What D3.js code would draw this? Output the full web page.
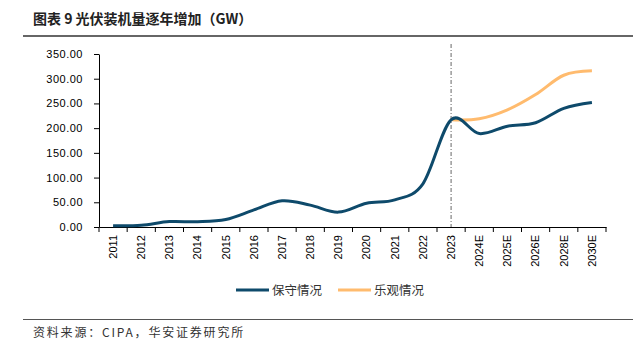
<!DOCTYPE html>
<html>
<head>
<meta charset="utf-8">
<script src="https://cdn.jsdelivr.net/npm/d3@7"></script>
<style>
  body { margin: 0; background: #fff; }
  svg { display: block; }
  .axis text { font-family: "Liberation Sans", Arial, sans-serif; font-size: 11px; fill: #000; }
  .axis path, .axis line { stroke: #000; }
  .cjk { font-family: "Noto Sans CJK SC", sans-serif; }
</style>
</head>
<body>
<svg width="638" height="350"></svg>
<script>
// categories and series
var years = ["2011", "2012", "2013", "2014", "2015", "2016", "2017", "2018", "2019",
    "2020", "2021", "2022", "2023", "2024E", "2025E", "2026E", "2028E", "2030E"];
var conservative = [2.7, 3.6, 10.9, 10.6, 15.1, 34.5, 53.1, 44.3, 30.1,
    48.2, 54.9, 87.4, 216.9, 189, 204, 211, 240, 252];
var optimisticYears = ["2023", "2024E", "2025E", "2026E", "2028E", "2030E"];
var optimistic = [216.9, 219, 237, 268, 307, 316];
var yTicks = [0, 50, 100, 150, 200, 250, 300, 350];
var seriesNames = ["保守情况", "乐观情况"];
var colors = ["#0e4a6b", "#ffbb6e"];

var svg = d3.select("svg");
var margin = {top: 54, left: 99, right: 32, bottom: 123};
var width = 638 - margin.left - margin.right;
var height = 350 - margin.top - margin.bottom;

// title and rules
svg.append("text").attr("class", "cjk")
    .attr("x", 33).attr("y", 24)
    .attr("font-size", 14).attr("font-weight", "bold").attr("fill", "#222")
    .text("图表 9 光伏装机量逐年增加（GW）");
svg.append("line").attr("x1", 23).attr("x2", 633).attr("y1", 36).attr("y2", 36)
    .attr("stroke", "#333").attr("stroke-width", 1.5);
svg.append("line").attr("x1", 23).attr("x2", 633).attr("y1", 319.5).attr("y2", 319.5)
    .attr("stroke", "#555").attr("stroke-width", 1.2);
svg.append("text").attr("class", "cjk")
    .attr("x", 33).attr("y", 337)
    .attr("font-size", 12).attr("fill", "#333").attr("letter-spacing", 1.8)
    .text("资料来源：CIPA，华安证券研究所");

var g = svg.append("g")
    .attr("transform", "translate(" + margin.left + "," + margin.top + ")");

var x = d3.scaleBand().range([0, width]).domain(years);
var y = d3.scaleLinear().range([height, 0]).domain([0, 350]);

g.append("g")
    .attr("class", "axis y")
    .call(d3.axisLeft(y).tickValues(yTicks).tickFormat(d3.format(".2f")).tickSize(5).tickSizeOuter(0))
    .selectAll("text").attr("x", -16).attr("font-size", 12).attr("letter-spacing", 0.5);

var xAxis = g.append("g")
    .attr("class", "axis x")
    .attr("transform", "translate(0," + height + ")")
    .call(d3.axisBottom(x).tickSize(0).tickSizeOuter(0));
xAxis.selectAll("text")
    .attr("transform", "rotate(-90)")
    .attr("text-anchor", "end")
    .attr("dy", "0.35em")
    .attr("x", -8).attr("y", 0)
    .attr("font-size", 11.5);
// tick marks on band boundaries, as in the reference
xAxis.selectAll(".bound")
    .data(years.concat(["end"]))
    .enter().append("line")
    .attr("class", "bound")
    .attr("x1", function(d, i) { return i * x.step(); })
    .attr("x2", function(d, i) { return i * x.step(); })
    .attr("y1", 0).attr("y2", 5)
    .attr("stroke", "#000");

// forecast divider at 2023
g.append("line")
    .attr("x1", x("2023") + x.bandwidth() / 2).attr("x2", x("2023") + x.bandwidth() / 2)
    .attr("y1", -10).attr("y2", height)
    .attr("stroke", "#666").attr("stroke-dasharray", "4,2,1,2");

var line = d3.line()
    .x(function(d) { return x(d[0]) + x.bandwidth() / 2; })
    .y(function(d) { return y(d[1]); })
    .curve(d3.curveCardinal.tension(0));

g.append("path")
    .datum(optimisticYears.map(function(d, i) { return [d, optimistic[i]]; }))
    .attr("d", line).attr("fill", "none")
    .attr("stroke", colors[1]).attr("stroke-width", 3);

g.append("path")
    .datum(years.map(function(d, i) { return [d, conservative[i]]; }))
    .attr("d", line).attr("fill", "none")
    .attr("stroke", colors[0]).attr("stroke-width", 3);

// legend
var legend = svg.append("g").attr("transform", "translate(236,290)");
var item = legend.selectAll("g")
    .data(seriesNames)
    .enter().append("g")
    .attr("transform", function(d, i) { return "translate(" + (i * 102) + ",0)"; });
item.append("line").attr("x1", 0).attr("x2", 33)
    .attr("stroke", function(d, i) { return colors[i]; }).attr("stroke-width", 3);
item.append("text").attr("class", "cjk")
    .attr("x", 36).attr("y", 4.5)
    .attr("font-size", 12.5).attr("fill", "#333")
    .text(function(d) { return d; });
</script>
</body>
</html>
